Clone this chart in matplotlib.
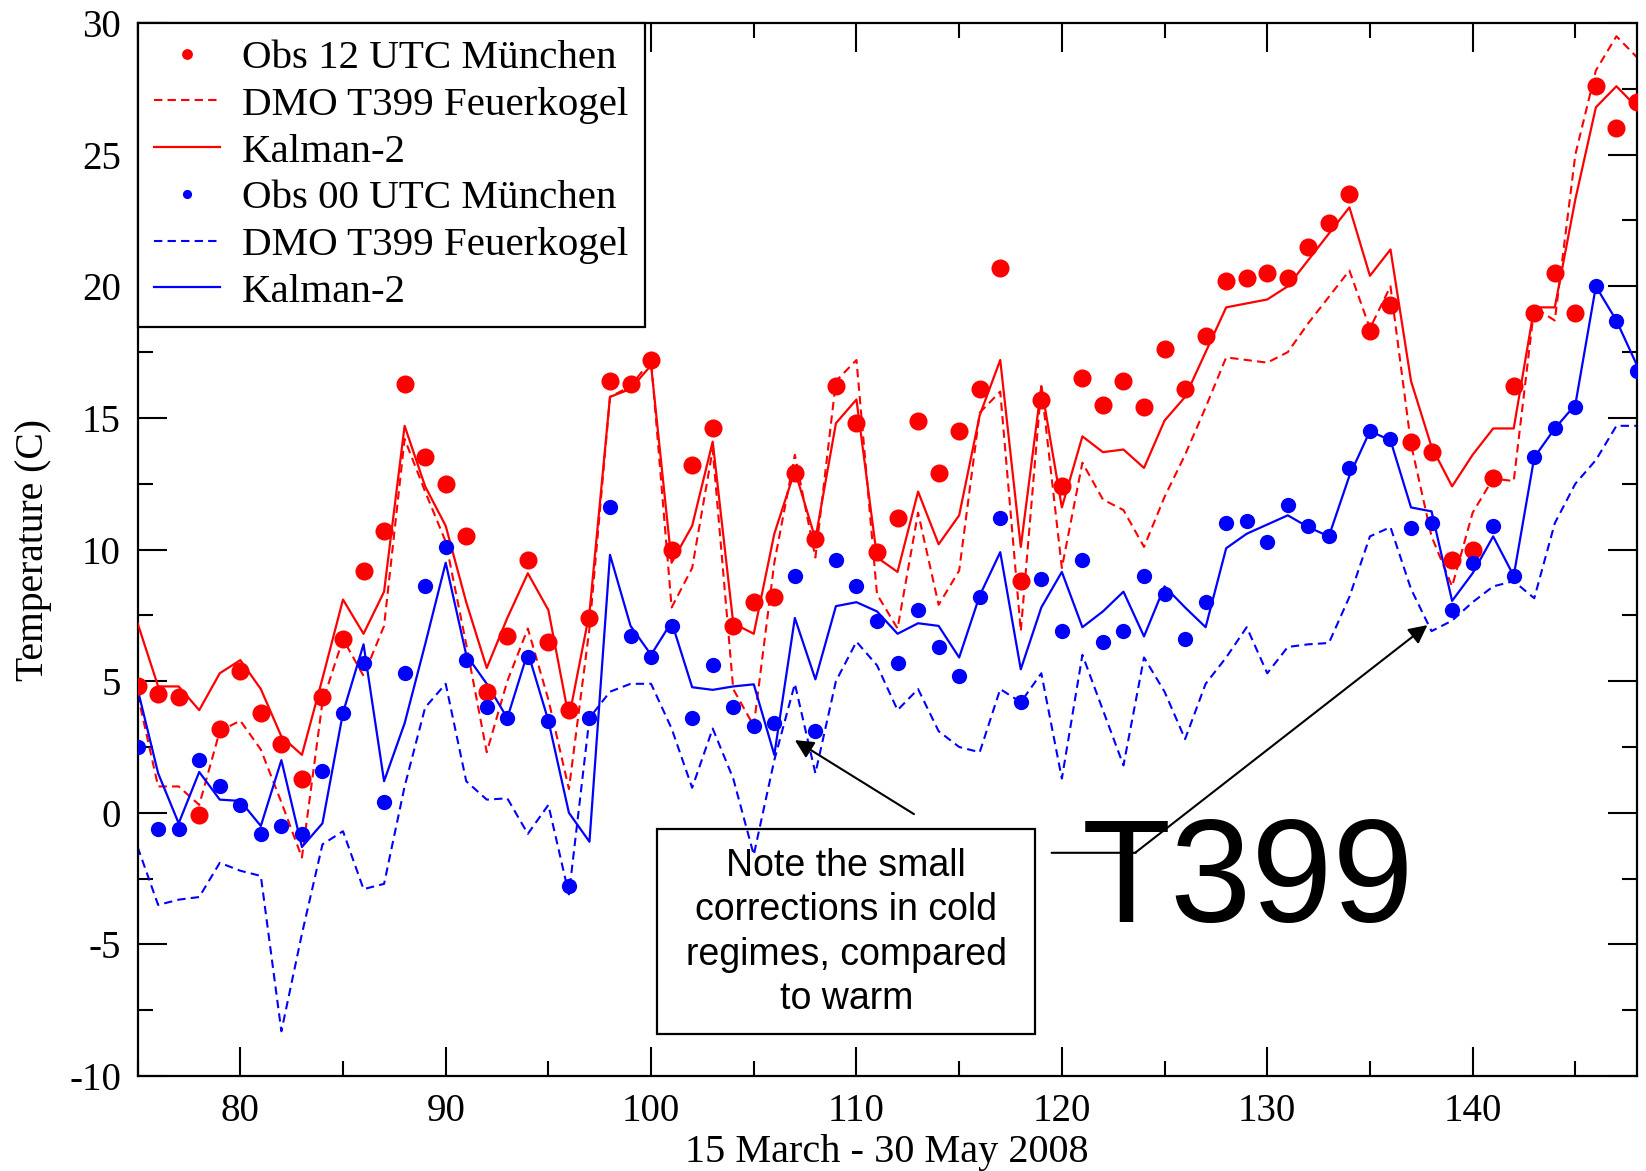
import numpy as np
import matplotlib
matplotlib.use('Agg')
import matplotlib.pyplot as plt
from matplotlib.patches import Rectangle

# day of year, 15 March - 30 May 2008
days = np.arange(75, 149)

# 12 UTC (red)
obs_12 = [4.8, 4.5, 4.4, -0.1, 3.2, 5.4, 3.8, 2.6, 1.3, 4.4,
          6.6, 9.2, 10.7, 16.3, 13.5, 12.5, 10.5, 4.6, 6.7, 9.6,
          6.5, 3.9, 7.4, 16.4, 16.3, 17.2, 10.0, 13.2, 14.6, 7.1,
          8.0, 8.2, 12.9, 10.4, 16.2, 14.8, 9.9, 11.2, 14.9, 12.9,
          14.5, 16.1, 20.7, 8.8, 15.7, 12.4, 16.5, 15.5, 16.4, 15.4,
          17.6, 16.1, 18.1, 20.2, 20.3, 20.5, 20.3, 21.5, 22.4, 23.5,
          18.3, 19.3, 14.1, 13.7, 9.6, 10.0, 12.7, 16.2, 19.0, 20.5,
          19.0, 27.6, 26.0, 27.0]
dmo_12 = [4.5, 1.0, 1.0, 0.3, 3.1, 3.5, 2.4, 0.4, -1.7, 4.2,
          6.6, 5.2, 7.1, 14.2, 12.2, 10.3, 6.4, 2.3, 5.0, 7.0,
          4.3, 0.9, 7.0, 15.8, 16.2, 17.2, 7.8, 9.3, 13.8, 4.7,
          3.3, 9.5, 13.6, 9.7, 16.4, 17.2, 8.3, 7.0, 11.4, 7.9,
          9.2, 15.2, 16.0, 6.9, 16.2, 9.3, 13.3, 11.9, 11.5, 10.1,
          12.0, 13.6, 15.4, 17.3, 17.2, 17.1, 17.5, 18.6, 19.6, 20.6,
          18.4, 20.0, 14.0, 10.5, 8.6, 11.4, 12.7, 12.6, 19.2, 18.7,
          25.0, 28.2, 29.5, 28.7]
kal_12 = [7.2, 4.8, 4.8, 3.9, 5.3, 5.8, 4.7, 2.9, 2.2, 5.1,
          8.1, 6.8, 8.4, 14.7, 12.4, 10.9, 8.0, 5.5, 7.4, 9.1,
          7.7, 3.6, 7.6, 15.8, 16.1, 17.0, 9.5, 10.9, 14.1, 7.2,
          6.8, 10.6, 13.0, 10.4, 14.8, 15.7, 9.7, 9.15, 12.2, 10.2,
          11.3, 15.1, 17.2, 10.1, 16.2, 11.6, 14.3, 13.7, 13.8, 13.1,
          14.9, 15.8, 17.5, 19.2, 19.35, 19.5, 20.0, 21.0, 22.0, 23.0,
          20.4, 21.4, 16.4, 13.9, 12.4, 13.6, 14.6, 14.6, 19.2, 19.2,
          23.3, 26.8, 27.6, 26.8]

# 00 UTC (blue)
obs_00 = [2.5, -0.6, -0.6, 2.0, 1.0, 0.3, -0.8, -0.5, -0.8, 1.6,
          3.8, 5.7, 0.4, 5.3, 8.6, 10.1, 5.8, 4.0, 3.6, 5.9,
          3.5, -2.8, 3.6, 11.6, 6.7, 5.9, 7.1, 3.6, 5.6, 4.0,
          3.3, 3.4, 9.0, 3.1, 9.6, 8.6, 7.3, 5.7, 7.7, 6.3,
          5.2, 8.2, 11.2, 4.2, 8.9, 6.9, 9.6, 6.5, 6.9, 9.0,
          8.3, 6.6, 8.0, 11.0, 11.1, 10.3, 11.7, 10.9, 10.5, 13.1,
          14.5, 14.2, 10.8, 11.0, 7.7, 9.5, 10.9, 9.0, 13.5, 14.6,
          15.4, 20.0, 18.7, 16.8]
dmo_00 = [-1.3, -3.5, -3.3, -3.2, -1.9, -2.2, -2.4, -8.3, -4.6, -1.2,
          -0.7, -2.9, -2.7, 1.0, 4.0, 4.9, 1.2, 0.5, 0.55, -0.8,
          0.3, -3.1, 3.6, 4.6, 4.9, 4.9, 3.2, 0.95, 3.2, 1.3,
          -1.6, 2.0, 4.9, 1.5, 5.0, 6.5, 5.6, 3.9, 4.7, 3.1,
          2.5, 2.3, 4.7, 4.2, 5.3, 1.3, 6.0, 3.9, 1.8, 5.9,
          4.6, 2.8, 4.9, 5.9, 7.05, 5.3, 6.3, 6.4, 6.45, 8.2,
          10.5, 10.85, 8.5, 6.9, 7.3, 8.0, 8.6, 8.8, 8.15, 11.0,
          12.5, 13.4, 14.7, 14.7]
kal_00 = [4.7, 1.5, -0.4, 1.55, 0.5, 0.45, -0.5, 2.0, -1.3, -0.4,
          3.8, 6.4, 1.2, 3.4, 6.4, 9.5, 6.0, 4.9, 3.6, 6.1,
          3.5, 0.0, -1.1, 9.8, 7.1, 6.0, 7.25, 4.77, 4.67, 4.8,
          4.88, 2.2, 7.4, 5.07, 7.85, 8.0, 7.65, 6.8, 7.2, 7.1,
          5.9, 8.25, 9.9, 5.45, 7.8, 9.15, 7.05, 7.65, 8.4, 6.7,
          8.6, 7.8, 7.05, 10.05, 10.6, 10.95, 11.3, 10.85, 10.5, 12.8,
          14.5, 14.15, 11.6, 11.45, 8.05, 9.1, 10.5, 9.0, 13.5, 14.6,
          15.5, 20.0, 18.7, 17.0]

labels = ['Obs 12 UTC München', 'DMO T399 Feuerkogel', 'Kalman-2',
          'Obs 00 UTC München', 'DMO T399 Feuerkogel', 'Kalman-2']

plt.rcParams['axes.unicode_minus'] = False
serif = ['Liberation Serif', 'DejaVu Serif']
sans = ['Liberation Sans', 'DejaVu Sans']

fig = plt.figure(figsize=(16.46, 11.71), dpi=100)
ax = fig.add_axes([0.0836, 0.0811, 0.9109, 0.8992])

dash = (0, (4, 2.5))
red, blue = '#ff0000', '#0000ff'

h1, = ax.plot(days, obs_12, 'o', color=red, ms=13, mec='none', zorder=4)
h2, = ax.plot(days, dmo_12, color=red, lw=1.5, ls=dash, zorder=2)
h3, = ax.plot(days, kal_12, color=red, lw=1.6, zorder=3)
h4, = ax.plot(days, obs_00, 'o', color=blue, ms=11, mec='none', zorder=4)
h5, = ax.plot(days, dmo_00, color=blue, lw=1.5, ls=dash, zorder=2)
h6, = ax.plot(days, kal_00, color=blue, lw=1.6, zorder=3)

ax.set_xlim(75, 148)
ax.set_ylim(-10, 30)
ax.set_xticks(np.arange(80, 141, 10))
ax.set_xticks(np.arange(75, 148, 5), minor=True)
ax.set_yticks(np.arange(-10, 31, 5))
ax.set_yticks(np.arange(-10, 30.1, 2.5), minor=True)
ax.tick_params(which='both', direction='in', top=True, right=True, width=1.5)
ax.tick_params(which='major', length=21, pad=12)
ax.tick_params(which='minor', length=11)
for lab in ax.get_xticklabels() + ax.get_yticklabels():
    lab.set_family(serif)
    lab.set_fontsize(28)
for sp in ax.spines.values():
    sp.set_linewidth(1.6)

ax.set_xlabel('15 March - 30 May 2008', family=serif, fontsize=29)
ax.xaxis.set_label_coords(0.5, -0.055)
ax.set_ylabel('Temperature (C)', family=serif, fontsize=28.5)
ax.yaxis.set_label_coords(-0.057, 0.5)

leg = ax.legend([h1, h2, h3, h4, h5, h6], labels, loc='upper left',
                borderaxespad=0, fancybox=False, framealpha=1, edgecolor='black',
                prop={'family': serif, 'size': 29.5}, markerscale=0.6,
                handlelength=1.6, handletextpad=0.55, labelspacing=0.22,
                borderpad=0.4)
leg.get_frame().set_linewidth(1.6)
leg.set_zorder(10)

# annotation box and arrows
ax.add_patch(Rectangle((100.3, -8.4), 18.4, 7.8, fill=False, ec='black', lw=1.6, zorder=5))
ax.text(109.5, -4.55, 'Note the small\ncorrections in cold\nregimes, compared\nto warm',
        family=sans, fontsize=27, ha='center', va='center', linespacing=1.3, zorder=6)
ax.annotate('', xy=(107.0, 2.76), xytext=(112.8, -0.05),
            arrowprops=dict(arrowstyle='-|>', color='black', lw=1.5, mutation_scale=28,
                            shrinkA=0, shrinkB=0), zorder=6)
ax.annotate('', xy=(123.6, -1.52), xytext=(119.5, -1.52),
            arrowprops=dict(arrowstyle='-', color='black', lw=1.5, shrinkA=0, shrinkB=0))
ax.annotate('', xy=(137.8, 7.13), xytext=(123.6, -1.5),
            arrowprops=dict(arrowstyle='-|>', color='black', lw=1.5, mutation_scale=28,
                            shrinkA=0, shrinkB=0), zorder=6)
ax.text(129.05, -4.15, 'T399', family=sans, fontsize=105, ha='center', va='baseline', zorder=6)

fig.savefig('out.png', dpi=100)
